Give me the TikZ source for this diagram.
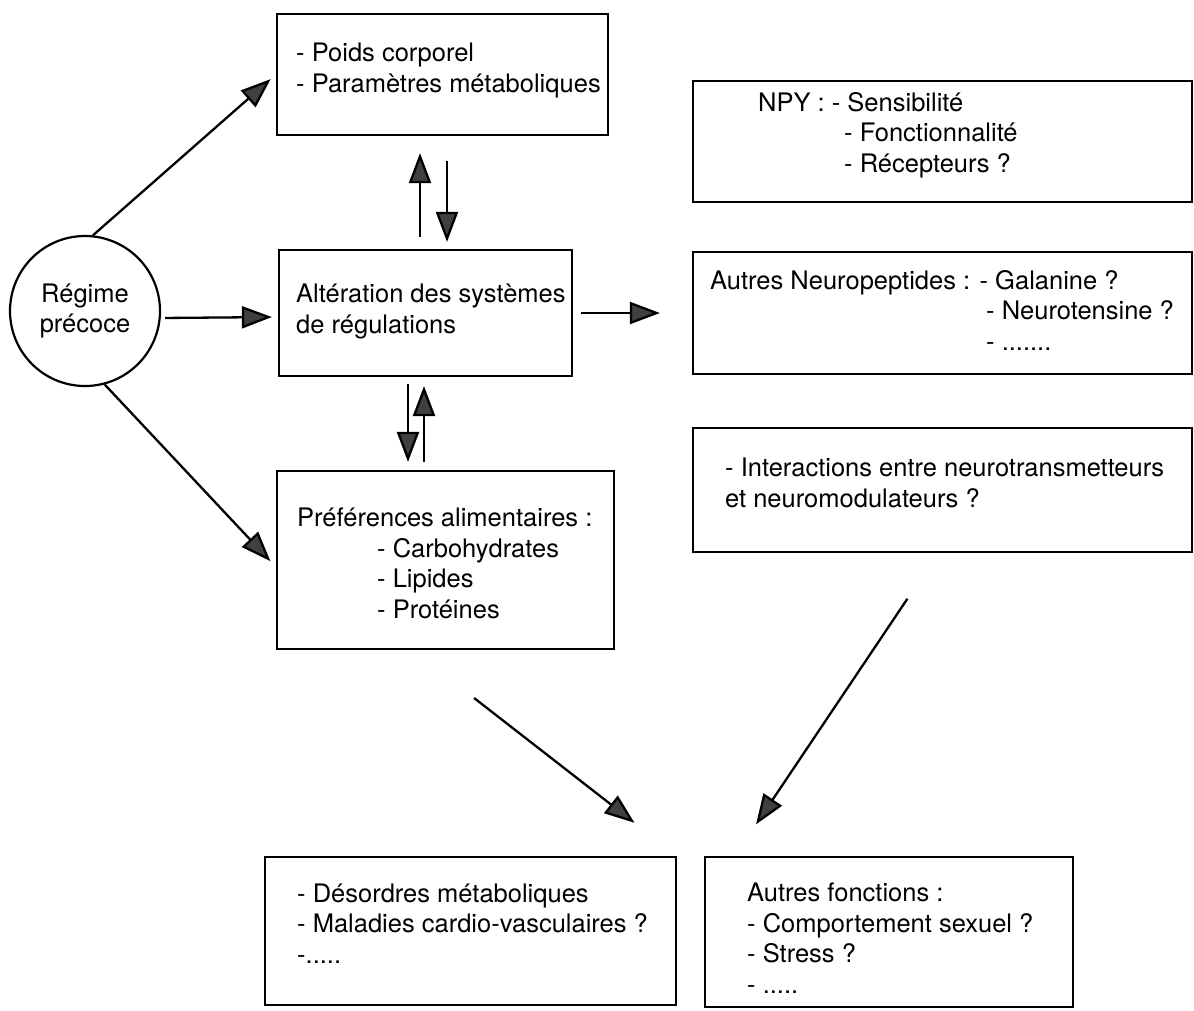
\documentclass[tikz,border=0pt]{standalone}
\usepackage{fontspec}
\setmainfont{TeX Gyre Heros}
\usetikzlibrary{arrows.meta}

\begin{document}
\begin{tikzpicture}[
    x=1pt, y=-1pt,
    font=\fontsize{25.5}{30.5}\selectfont,
    % Cadres rectangulaires et textes alignés à gauche
    cadre/.style={draw, line width=2.2pt, inner sep=0pt},
    texte/.style={align=left, inner sep=0pt},
    % Flèches épaisses avec pointe triangulaire grise
    fleche/.style={line width=2.3pt, -{Triangle[length=30pt, width=22pt, fill=black!75]}}
]

% Cadre de la page (en pixels du schéma)
\useasboundingbox (0,0) rectangle (1194,1010);

% Macro pour une boîte avec son texte
% #1: nom du node
% (#2,#3): coin haut gauche, (#4,#5): coin bas droit
% [#6,#7]: début de la DERNIÈRE ligne de texte (ligne de base)
% #8: contenu
\def\boite#1(#2,#3)(#4,#5)[#6,#7]#8{
    \node[cadre, minimum width={(#4-#2)*1pt}, minimum height={(#5-#3)*1pt}]
        (#1) at ({(#2+#4)/2},{(#3+#5)/2}) {};
    \node[texte, anchor=base west] (#1-t) at (#6,#7) {#8};
}

% --- Point de départ ---
\node[circle, draw, line width=2.2pt, minimum size=150pt, inner sep=0pt, align=center]
    (regime) at (85,311) {Régime\\précoce};

% --- Colonne du milieu ---
\boite{P}(277,14)(608,135)[296,92]{- Poids corporel\\- Paramètres métaboliques}
\boite{A}(279,250)(572,376)[296,333]{Altération des systèmes\\de régulations}
\boite{Pref}(277,471)(614,649)[297,618]{Préférences alimentaires :\\
    \hspace*{80pt}- Carbohydrates\\\hspace*{80pt}- Lipides\\\hspace*{80pt}- Protéines}

% --- Colonne de droite ---
\boite{NPY}(693,81)(1192,202)[758,172]{NPY : - Sensibilité\\
    \hspace*{86pt}- Fonctionnalité\\\hspace*{86pt}- Récepteurs ?}
\boite{Neuro}(693,252)(1192,374)[710,350]{Autres Neuropeptides : - Galanine ?\\
    \hspace*{276pt}- Neurotensine ?\\\hspace*{276pt}- .......}
\boite{Inter}(693,428)(1192,552)[725,507]{- Interactions entre neurotransmetteurs\\
    et neuromodulateurs ?}

% --- Conséquences (en bas) ---
\boite{Des}(265,857)(676,1005)[297,963]{- Désordres métaboliques\\
    - Maladies cardio-vasculaires ?\\-.....}
\boite{AF}(705,857)(1073,1007)[747,993]{Autres fonctions :\\
    - Comportement sexuel ?\\- Stress ?\\- .....}

% --- Flèches depuis le régime ---
\draw[fleche, shorten >=7pt] (regime.84) -- (P.west);
\draw[fleche, shorten <=4pt, shorten >=6pt] ([yshift=-7pt]regime.east) -- ([yshift=-4pt]A.west);
\draw[fleche, shorten >=8pt] (regime.-75) -- ([yshift=-7pt]Pref.west);

% --- Poids <-> Altération ---
\draw[fleche, shorten <=12pt, shorten >=17pt] ([xshift=-5.5pt]A.north) -- ([xshift=-22.5pt]P.south);
\draw[fleche, shorten <=25pt, shorten >=7pt] ([xshift=4.5pt]P.south) -- ([xshift=21.5pt]A.north);

% --- Altération <-> Préférences ---
\draw[fleche, shorten <=7pt, shorten >=8pt] ([xshift=-17.5pt]A.south) -- ([xshift=-37.5pt]Pref.north);
\draw[fleche, shorten <=8pt, shorten >=9pt] ([xshift=-21.5pt]Pref.north) -- ([xshift=-1.5pt]A.south);

% --- Altération -> neuropeptides ---
\draw[fleche, shorten <=8pt, shorten >=32pt] (A.east) -- (A.east -| Neuro.west);

% --- Vers les boîtes du bas ---
\draw[fleche, shorten <=78pt, shorten >=54pt] ([xshift=-33pt]Pref.south) -- (Des.north east);
\draw[fleche, shorten <=55pt, shorten >=38pt] ([xshift=-4.5pt]Inter.south) -- ([xshift=31pt]AF.north west);

\end{tikzpicture}
\end{document}
